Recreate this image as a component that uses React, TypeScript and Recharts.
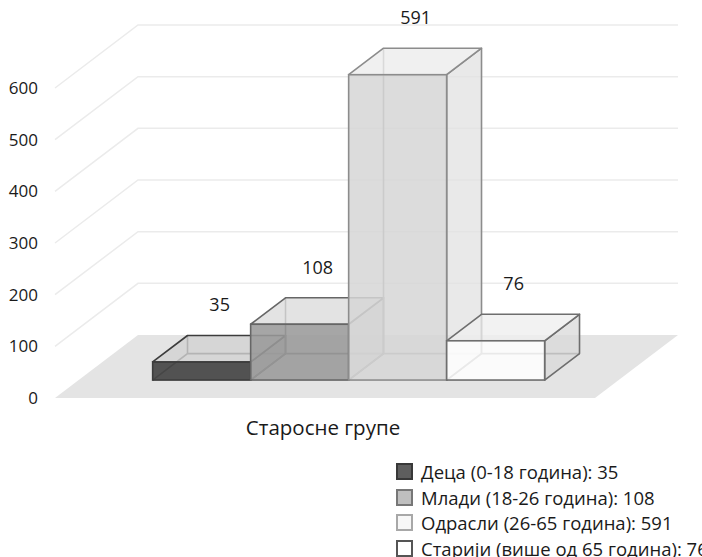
import { BarChart, Bar, XAxis, YAxis, CartesianGrid, LabelList, Legend } from 'recharts'

const CATEGORIES = ['Старосне групе']
const SERIES_KEYS = ['deca', 'mladi', 'odrasli', 'stariji']
const SERIES_NAMES = [
  'Деца (0-18 година)',
  'Млади (18-26 година)',
  'Одрасли (26-65 година)',
  'Старији (више од 65 година)',
]
const SERIES_VALUES = [35, 108, 591, 76]
const Y_TICKS = [0, 100, 200, 300, 400, 500, 600]

const data = CATEGORIES.map((name) => {
  const row: Record<string, string | number> = { name }
  SERIES_KEYS.forEach((k, i) => {
    row[k] = SERIES_VALUES[i]
  })
  return row
})

// look of each box: front / top / side faces and edge colour
const STYLES = [
  { front: '#474747', frontOpacity: 0.93, top: '#d2d2d2', side: '#bcbcbc', stroke: '#3c3c3c', icon: '#5e5e5e', iconStroke: '#383838' },
  { front: '#9a9a9a', frontOpacity: 0.88, top: '#dcdcdc', side: '#c4c4c4', stroke: '#666666', icon: '#bfbfbf', iconStroke: '#777777' },
  { front: '#d6d6d6', frontOpacity: 0.85, top: '#ececec', side: '#e2e2e2', stroke: '#8c8c8c', icon: '#f7f7f7', iconStroke: '#a8a8a8' },
  { front: '#ffffff', frontOpacity: 0.85, top: '#efefef', side: '#d9d9d9', stroke: '#6e6e6e', icon: '#ffffff', iconStroke: '#555555' },
]

// oblique depth of the floor (px) and where the boxes sit in it
const DEPTH_X = 83
const DEPTH_Y = 63
const FRONT_T = 0.285
const BOX_T = 0.42
const FX = DEPTH_X * FRONT_T
const FY = -DEPTH_Y * FRONT_T
const LABEL_DX = 18
const LABEL_DY = 57

const FONT = '"Open Sans", sans-serif'

const pts = (arr: number[][]) => arr.map((p) => p.join(',')).join(' ')

function Box3D(props: any) {
  const { x, y, width, height, look } = props
  const dx = DEPTH_X * BOX_T
  const dy = -DEPTH_Y * BOX_T
  const L = x + FX
  const R = x + width + FX
  const T = y + FY
  const B = y + height + FY
  const sw = 1.6
  return (
    <g>
      {/* edges seen through the faces */}
      <polyline points={pts([[L, B], [L + dx, B + dy], [R + dx, B + dy]])} fill="none" stroke={look.stroke} strokeWidth={sw} />
      <line x1={L + dx} y1={B + dy} x2={L + dx} y2={T + dy} stroke={look.stroke} strokeWidth={sw} />
      <polygon points={pts([[R, T], [R + dx, T + dy], [R + dx, B + dy], [R, B]])} fill={look.side} fillOpacity={0.75} stroke={look.stroke} strokeWidth={sw} strokeLinejoin="round" />
      <polygon points={pts([[L, T], [L + dx, T + dy], [R + dx, T + dy], [R, T]])} fill={look.top} fillOpacity={0.8} stroke={look.stroke} strokeWidth={sw} strokeLinejoin="round" />
      <rect x={L} y={T} width={width} height={height} fill={look.front} fillOpacity={look.frontOpacity} stroke={look.stroke} strokeWidth={sw} />
    </g>
  )
}

function gridLine(p: any) {
  const { x1, x2, y1, y, height } = p
  const isFloor = Math.abs(y1 - (y + height)) < 0.5
  if (isFloor) {
    return (
      <polygon
        key={p.key}
        points={pts([[x1, y1], [x2, y1], [x2 + DEPTH_X, y1 - DEPTH_Y], [x1 + DEPTH_X, y1 - DEPTH_Y]])}
        fill="#e4e4e4"
      />
    )
  }
  return (
    <polyline
      key={p.key}
      points={pts([[x1, y1], [x1 + DEPTH_X, y1 - DEPTH_Y], [x2 + DEPTH_X, y1 - DEPTH_Y]])}
      fill="none"
      stroke="#ebebeb"
      strokeWidth={1.5}
    />
  )
}

function CategoryTick(p: any) {
  return (
    <text x={p.x - 2} y={p.y} dy={29} textAnchor="middle" fontFamily={FONT} fontSize={20.5} fill="#1a1a1a">
      {p.payload.value}
    </text>
  )
}

function LegendBox() {
  return (
    <div style={{ fontFamily: FONT, fontSize: 18.5, color: '#1a1a1a', whiteSpace: 'nowrap' }}>
      {SERIES_NAMES.map((name, i) => (
        <div key={name} style={{ display: 'flex', alignItems: 'center', height: 25.6 }}>
          <span
            style={{
              display: 'inline-block',
              width: 13,
              height: 13,
              background: STYLES[i].icon,
              border: `2px solid ${STYLES[i].iconStroke}`,
              marginRight: 8,
            }}
          />
          <span>{`${name}: ${SERIES_VALUES[i]}`}</span>
        </div>
      ))}
    </div>
  )
}

export default function App() {
  return (
    <div style={{ position: 'absolute', left: 0, top: 0, width: 702, height: 557, background: '#fff', overflow: 'hidden' }}>
      <BarChart
        width={702}
        height={557}
        data={data}
        margin={{ top: 88, right: 107, bottom: 0, left: 0 }}
        barGap={0}
        barSize={98}
      >
        <CartesianGrid vertical={false} horizontal={gridLine} />
        <XAxis dataKey="name" axisLine={false} tickLine={false} height={159} tick={CategoryTick} />
        <YAxis
          domain={[0, 600]}
          ticks={Y_TICKS}
          axisLine={false}
          tickLine={false}
          width={55}
          tickMargin={11}
          tick={{ fontFamily: FONT, fontSize: 17, fill: '#1a1a1a' }}
        />
        {SERIES_KEYS.map((key, i) => (
          <Bar
            key={key}
            dataKey={key}
            name={SERIES_NAMES[i]}
            isAnimationActive={false}
            shape={(p: any) => <Box3D {...p} look={STYLES[i]} />}
          >
            <LabelList
              dataKey={key}
              content={(p: any) => (
                <text
                  x={p.x + p.width / 2 + FX + LABEL_DX}
                  y={p.y + FY - LABEL_DY}
                  dy="0.35em"
                  textAnchor="middle"
                  fontFamily={FONT}
                  fontSize={18}
                  fill="#1a1a1a"
                >
                  {p.value}
                </text>
              )}
            />
          </Bar>
        ))}
        <Legend
          layout="vertical"
          align="center"
          verticalAlign="middle"
          wrapperStyle={{ left: 396, top: 459, width: 330 }}
          content={() => <LegendBox />}
        />
      </BarChart>
    </div>
  )
}
